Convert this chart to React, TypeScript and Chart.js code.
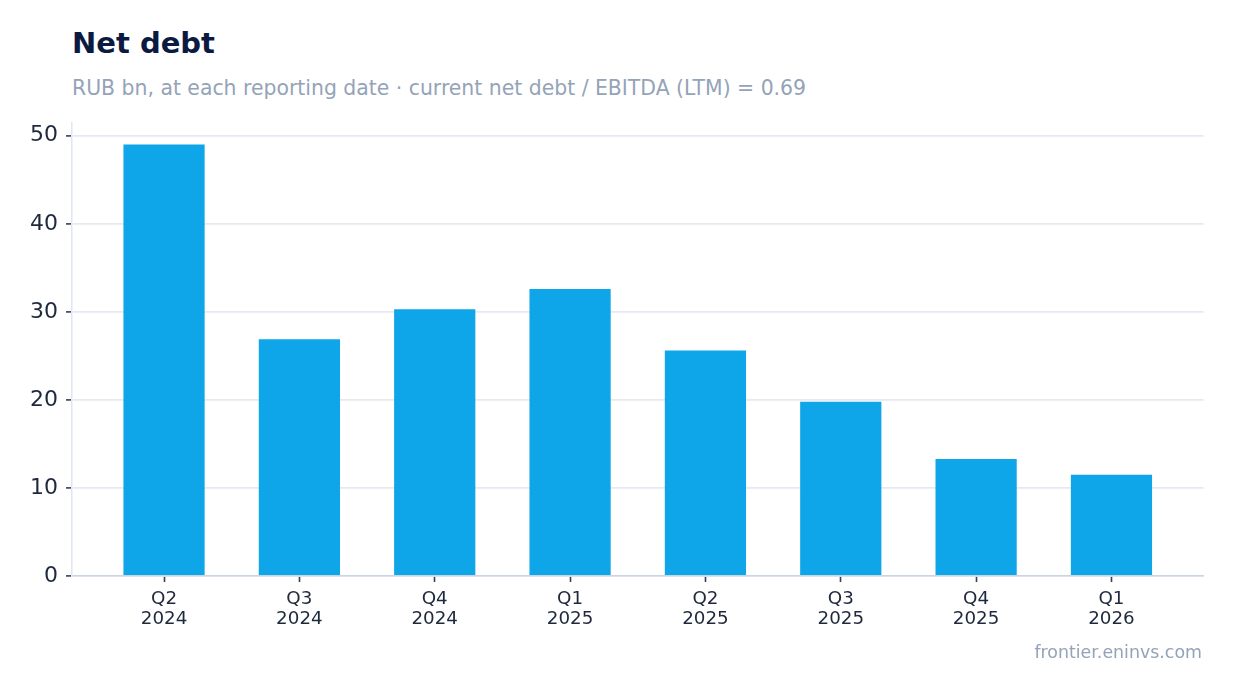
import React, { useEffect, useRef } from "react";
import { Chart, registerables } from "chart.js";

Chart.register(...registerables);

const TITLE = "Net debt";
const SUBTITLE = "RUB bn, at each reporting date · current net debt / EBITDA (LTM) = 0.69";
const FOOTER = "frontier.eninvs.com";

const QUARTERS = ["Q2", "Q3", "Q4", "Q1", "Q2", "Q3", "Q4", "Q1"];
const YEARS = ["2024", "2024", "2024", "2025", "2025", "2025", "2025", "2026"];
const NET_DEBT = [49.0, 26.9, 30.3, 32.6, 25.6, 19.8, 13.3, 11.5];
const Y_TICKS = [0, 10, 20, 30, 40, 50];

const FONT = "'DejaVu Sans', 'Liberation Sans', sans-serif";

export default function App() {
  const ref = useRef<HTMLCanvasElement | null>(null);

  useEffect(() => {
    if (!ref.current) return;
    const n = QUARTERS.length;
    const yMax = Math.max(...NET_DEBT) * 1.05;
    const xPad = 0.3 + (n - 1 + 0.6) * 0.05;
    const chart = new Chart(ref.current, {
      type: "bar",
      data: {
        datasets: [
          {
            data: NET_DEBT.map((v, i) => ({ x: i, y: v })),
            backgroundColor: "#0ea5e9",
            borderWidth: 0,
            categoryPercentage: 1,
            barPercentage: 0.6,
          },
        ],
      },
      options: {
        animation: false,
        responsive: false,
        maintainAspectRatio: false,
        layout: { padding: { left: 0, top: 123, right: 30.5, bottom: 57 } },
        plugins: {
          legend: { display: false },
          tooltip: { enabled: false },
          title: { display: false },
        },
        scales: {
          x: {
            type: "linear",
            offset: false,
            min: -xPad,
            max: n - 1 + xPad,
            afterFit: (s: any) => {
              s.height = 60;
            },
            afterBuildTicks: (s: any) => {
              s.ticks = QUARTERS.map((_, i) => ({ value: i }));
            },
            ticks: {
              autoSkip: false,
              maxRotation: 0,
              padding: 7,
              color: "#1e293b",
              font: { family: FONT, size: 18.3, lineHeight: 1.12 },
              callback: (v: any) => {
                const i = Math.round(Number(v));
                return [QUARTERS[i], YEARS[i]];
              },
            },
            grid: {
              display: true,
              offset: false,
              drawOnChartArea: false,
              drawTicks: true,
              tickLength: 6,
              tickColor: "#334155",
              tickWidth: 1.6,
            },
            border: { display: true, color: "#cbd5e1", width: 1.6 },
          },
          y: {
            type: "linear",
            min: 0,
            max: yMax,
            afterFit: (s: any) => {
              s.width = 72;
            },
            afterBuildTicks: (s: any) => {
              s.ticks = Y_TICKS.map((v) => ({ value: v }));
            },
            ticks: {
              padding: 8,
              color: "#1e293b",
              font: { family: FONT, size: 22 },
            },
            grid: {
              color: "#e5e9f0",
              lineWidth: 1.8,
              drawTicks: true,
              tickLength: 6,
              tickColor: "#334155",
              tickWidth: 1.6,
            },
            border: { display: true, color: "#e2e8f0", width: 1.6 },
          },
        },
      },
    });
    return () => chart.destroy();
  }, []);

  return (
    <div style={{ position: "absolute", left: 0, top: 0, width: 1234, height: 693, background: "#fff", fontFamily: FONT }}>
      <div
        style={{
          position: "absolute",
          left: 72,
          top: 29,
          fontSize: 29,
          lineHeight: "29px",
          fontWeight: 700,
          color: "#0b1a40",
          whiteSpace: "nowrap",
        }}
      >
        {TITLE}
      </div>
      <div
        style={{
          position: "absolute",
          left: 72,
          top: 78,
          fontSize: 20.4,
          lineHeight: "20.4px",
          color: "#94a3b8",
          whiteSpace: "nowrap",
        }}
      >
        {SUBTITLE}
      </div>
      <canvas ref={ref} width={1234} height={693} style={{ position: "absolute", left: 0, top: 0, width: 1234, height: 693 }} />
      <div
        style={{
          position: "absolute",
          right: 32,
          top: 643.5,
          fontSize: 17.4,
          lineHeight: "17.4px",
          color: "#94a3b8",
          whiteSpace: "nowrap",
        }}
      >
        {FOOTER}
      </div>
    </div>
  );
}
